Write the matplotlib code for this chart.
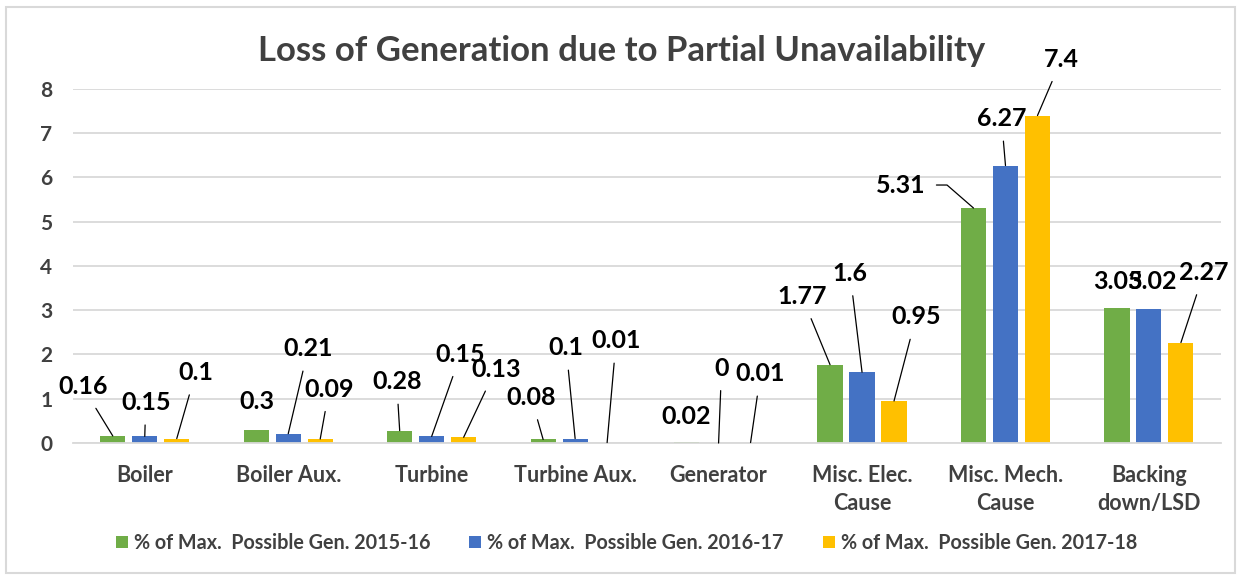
import numpy as np
import matplotlib.pyplot as plt
from matplotlib.patches import Rectangle

plt.rcParams['font.family'] = ['Lato', 'DejaVu Sans']
plt.rcParams['font.weight'] = 'bold'

categories = ["Boiler", "Boiler Aux.", "Turbine", "Turbine Aux.", "Generator",
              "Misc. Elec.\nCause", "Misc. Mech.\nCause", "Backing\ndown/LSD"]
series_names = ["% of Max.  Possible Gen. 2015-16",
                "% of Max.  Possible Gen. 2016-17",
                "% of Max.  Possible Gen. 2017-18"]
gen_2015_16 = [0.16, 0.3, 0.28, 0.08, 0.02, 1.77, 5.31, 3.05]
gen_2016_17 = [0.15, 0.21, 0.15, 0.1, 0, 1.6, 6.27, 3.02]
gen_2017_18 = [0.1, 0.09, 0.13, 0.01, 0.01, 0.95, 7.4, 2.27]

colors = ["#70AD47", "#4472C4", "#FFC000"]

# label offsets (pixels) from bar top, per series
label_offsets = [
    [(-30, 49), (1, 28), (-3, 49), (-12, 42), (0, 26), (-28, 68), (-73, 23), (1, 27)],
    [(1, 34), (20, 85), (29, 82), (-9, 91), (3, 75), (-12, 99), (-4, 47), (3, 28)],
    [(19, 66), (9, 50), (32, 68), (9, 102), (10, 69), (22, 84), (24, 56), (23, 70)],
]

fig = plt.figure(figsize=(12.38, 5.76), dpi=100)
ax = fig.add_axes([0.059, 0.2309, 0.927, 0.6146])

x = np.arange(len(categories))
width = 0.175
step = 0.223
all_series = [gen_2015_16, gen_2016_17, gen_2017_18]
for k, vals in enumerate(all_series):
    xs = x + (k - 1) * step
    ax.bar(xs, vals, width, color=colors[k], label=series_names[k], zorder=3)
    for i, v in enumerate(vals):
        dx, dy = label_offsets[k][i]
        props = None
        if np.hypot(dx, dy) > 31:
            props = dict(arrowstyle='-', color='black', lw=0.9, shrinkA=6, shrinkB=0)
            if dx < -60:
                # elbow leader line for labels placed to the side
                props['connectionstyle'] = "angle,angleA=0,angleB=-41,rad=0"
        ax.annotate("{:g}".format(v), xy=(xs[i], v), xytext=(dx, dy),
                    textcoords='offset pixels', ha='center', va='center',
                    fontsize=18, fontweight='bold', color='black',
                    arrowprops=props, zorder=5)

ax.set_xlim(-0.5, len(categories) - 0.5)
ax.set_ylim(0, 8)
ax.set_yticks(range(0, 9))
ax.set_xticks(x)
ax.set_xticklabels(categories, fontsize=15.5, linespacing=1.4)
ax.tick_params(axis='both', length=0, labelcolor='#404040')
ax.tick_params(axis='y', labelsize=15, pad=15)
ax.tick_params(axis='x', pad=16)
ax.grid(axis='y', color='#D9D9D9', lw=1.3, zorder=0)
for s in ['top', 'right', 'left']:
    ax.spines[s].set_visible(False)
ax.spines['bottom'].set_color('#D9D9D9')
ax.spines['bottom'].set_linewidth(1.3)
ax.spines['bottom'].set_zorder(4)

fig.text(0.502, 0.912, "Loss of Generation due to Partial Unavailability",
         ha='center', va='center', fontsize=25, fontweight='bold', color='#404040')

fig.legend(loc='center', bbox_to_anchor=(0.506, 0.057), ncol=3, frameon=False,
           fontsize=14.2, handlelength=0.6, handleheight=0.6, handletextpad=0.3,
           columnspacing=2.0, labelcolor='#404040')

fig.patches.append(Rectangle((6 / 1238, 3 / 576), 1229 / 1238, 566 / 576,
                             transform=fig.transFigure, fill=False,
                             edgecolor='#D9D9D9', lw=1.5))

fig.savefig("out.png", dpi=100)
